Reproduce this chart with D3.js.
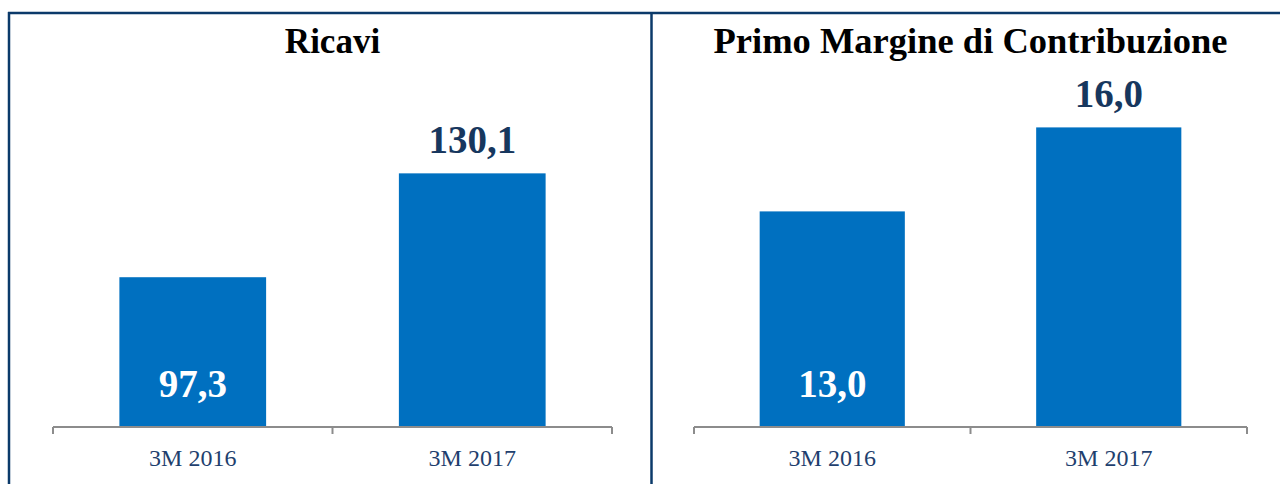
<!DOCTYPE html>
<html>
<head>
<meta charset="utf-8">
<script src="https://cdn.jsdelivr.net/npm/d3@7/dist/d3.min.js"></script>
<style>
    html, body { margin: 0; padding: 0; background: #ffffff; }
    svg { display: block; }
</style>
</head>
<body>
<div id="chart"></div>
<script>
const categories = ['3M 2016', '3M 2017']
const ricavi = [97.3, 130.1]
const primoMargine = [13.0, 16.0]
const titles = ['Ricavi', 'Primo Margine di Contribuzione']

const width = 1280
const height = 484
const baseY = 427

const it = d3.formatLocale({ decimal: ',', thousands: '.', grouping: [3], currency: ['€', ''] })
const fmt = it.format('.1f')

const svg = d3.select('#chart').append('svg')
    .attr('width', width)
    .attr('height', height)

// frame: top, left and the divider between the two panels
const frame = svg.append('g')
    .attr('stroke', '#0b3a6a')
    .attr('stroke-width', 2.5)
frame.append('line').attr('x1', 8).attr('x2', width).attr('y1', 13).attr('y2', 13)
frame.append('line').attr('x1', 9).attr('x2', 9).attr('y1', 12).attr('y2', height)
frame.append('line').attr('x1', 651.5).attr('x2', 651.5).attr('y1', 12).attr('y2', height)

const panels = [
    { title: titles[0], values: ricavi, x0: 53, x1: 612, domain: [50, 140], top: 142, titleSize: 35 },
    { title: titles[1], values: primoMargine, x0: 694, x1: 1247, domain: [5.3, 17], top: 99.4, titleSize: 36.5 }
]

panels.forEach(p => {
    const g = svg.append('g')

    const x = d3.scaleBand()
        .domain(categories)
        .range([p.x0, p.x1])
        .padding(0)

    const y = d3.scaleLinear()
        .domain(p.domain)
        .range([baseY, p.top])

    const barW = x.bandwidth() * 0.525

    g.append('text')
        .attr('x', (p.x0 + p.x1) / 2)
        .attr('y', 53)
        .attr('text-anchor', 'middle')
        .attr('font-family', 'Liberation Serif, Times New Roman, serif')
        .attr('font-weight', 'bold')
        .attr('font-size', p.titleSize)
        .attr('fill', '#000')
        .text(p.title)

    const rows = categories.map((c, i) => ({ cat: c, value: p.values[i], i }))

    g.selectAll('rect')
        .data(rows)
        .enter()
        .append('rect')
        .attr('x', d => x(d.cat) + (x.bandwidth() - barW) / 2)
        .attr('y', d => y(d.value))
        .attr('width', barW)
        .attr('height', d => baseY - y(d.value))
        .attr('fill', '#0070c0')

    // first bar labelled inside at the base, last one above the bar
    g.selectAll('text.val')
        .data(rows)
        .enter()
        .append('text')
        .attr('class', 'val')
        .attr('x', d => x(d.cat) + x.bandwidth() / 2)
        .attr('y', d => d.i === 0 ? baseY - 30 : y(d.value) - 20)
        .attr('text-anchor', 'middle')
        .attr('font-family', 'Liberation Serif, Times New Roman, serif')
        .attr('font-weight', 'bold')
        .attr('font-size', 39)
        .attr('fill', d => d.i === 0 ? '#ffffff' : '#17375e')
        .text(d => fmt(d.value))

    // category axis with ticks at the band edges
    const axis = g.append('g')
        .attr('stroke', '#8c8c8c')
        .attr('stroke-width', 2)
    axis.append('line')
        .attr('x1', p.x0).attr('x2', p.x1)
        .attr('y1', baseY).attr('y2', baseY)
    const edges = categories.map(c => x(c)).concat([p.x1])
    axis.selectAll('line.tick')
        .data(edges)
        .enter()
        .append('line')
        .attr('class', 'tick')
        .attr('x1', d => d).attr('x2', d => d)
        .attr('y1', baseY).attr('y2', baseY + 7)

    g.selectAll('text.cat')
        .data(categories)
        .enter()
        .append('text')
        .attr('class', 'cat')
        .attr('x', d => x(d) + x.bandwidth() / 2)
        .attr('y', 466)
        .attr('text-anchor', 'middle')
        .attr('font-family', 'Liberation Serif, Times New Roman, serif')
        .attr('font-size', 24)
        .attr('fill', '#1f3f6e')
        .text(d => d)
})
</script>
</body>
</html>
